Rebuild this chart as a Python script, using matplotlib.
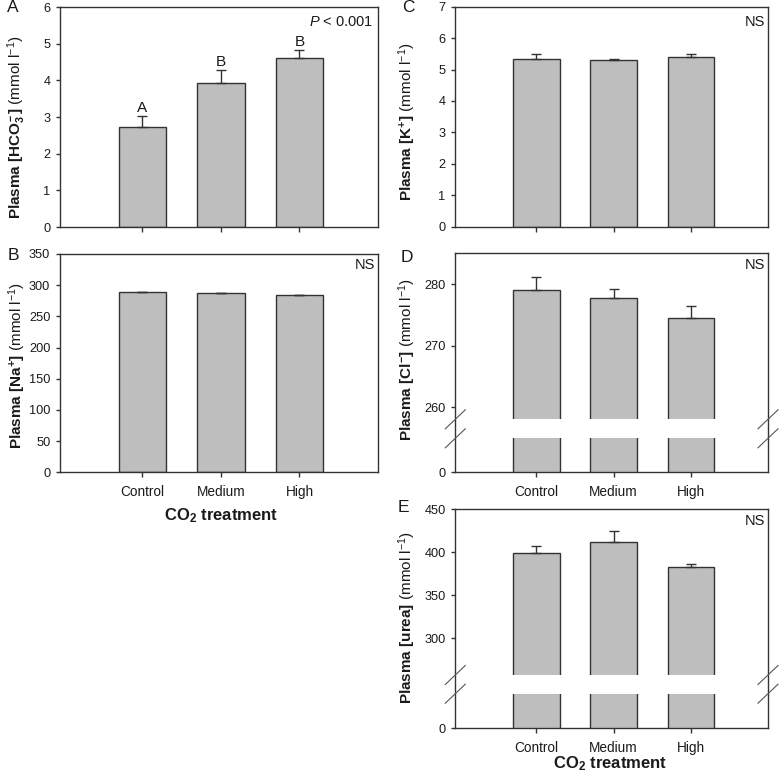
import numpy as np
import matplotlib
matplotlib.use('Agg')
import matplotlib.pyplot as plt
from matplotlib.lines import Line2D

plt.rcParams['font.family'] = ['Liberation Sans', 'DejaVu Sans']
plt.rcParams['mathtext.fontset'] = 'custom'
plt.rcParams['mathtext.rm'] = 'Liberation Sans'
plt.rcParams['mathtext.it'] = 'Liberation Sans:italic'
plt.rcParams['mathtext.bf'] = 'Liberation Sans:bold'

groups = ['Control', 'Medium', 'High']
letters = ['A', 'B', 'B']

hco3 = [2.74, 3.94, 4.62]
hco3_se = [0.29, 0.35, 0.22]
k = [5.35, 5.29, 5.39]
k_se = [0.16, 0.06, 0.09]
na = [288.6, 287.0, 283.8]
na_se = [1.1, 1.1, 1.1]
cl = [279.1, 277.7, 274.5]
cl_se = [2.0, 1.5, 1.9]
urea = [398.5, 411.5, 383.1]
urea_se = [8.0, 12.7, 3.1]

bar_col = '#bebebe'
edge = '#333333'
txt = '#1a1a1a'
x = np.arange(1, 4)

fig = plt.figure(figsize=(7.8, 7.78), dpi=100)


def frac(l, t, r, b):
    # pixel box (from top-left) -> figure fraction rect
    return [l / 780, 1 - b / 778, (r - l) / 780, (b - t) / 778]


def style(ax, ticks, frame=True, xlabels=False):
    ax.set_xlim(-0.05, 4.0)
    ax.set_facecolor('none')
    for s in ax.spines.values():
        s.set_visible(frame)
        s.set_color(edge)
        s.set_linewidth(1)
    ax.set_yticks(ticks)
    ax.tick_params(axis='both', direction='out', length=3, width=1, color=edge,
                   labelsize=9.2, labelcolor=txt, pad=4)
    ax.tick_params(axis='x', length=3.5, pad=6, labelsize=9.8)
    ax.set_xticks(x)
    if xlabels:
        ax.set_xticklabels(groups)
    else:
        ax.set_xticklabels([])


def bars(ax, vals, se):
    ax.bar(x, vals, width=0.6, color=bar_col, edgecolor=edge, linewidth=1, zorder=2)
    ax.errorbar(x, vals, yerr=[np.zeros(3), se], fmt='none', ecolor=edge,
                elinewidth=1, capsize=3.3, capthick=1, zorder=3)


def broken(top, gap_t, gap_b, bottom, vals, se, up_lim, up_ticks, xlabels):
    frame = fig.add_axes(frac(455.3, top, 768, bottom))
    frame.set_xticks([])
    frame.set_yticks([])
    frame.set_facecolor('none')
    for s in frame.spines.values():
        s.set_color(edge)
        s.set_linewidth(1)
    up = fig.add_axes(frac(455.3, top, 768, gap_t))
    lo = fig.add_axes(frac(455.3, gap_b, 768, bottom))
    bars(up, vals, se)
    bars(lo, vals, se)
    up.set_ylim(*up_lim)
    lo.set_ylim(0, 100)
    style(up, up_ticks, frame=False)
    up.tick_params(axis='x', bottom=False)
    style(lo, [0], frame=False, xlabels=xlabels)
    # break marks
    for px in (455.3, 768):
        for py in (gap_t, gap_b):
            fig.add_artist(Line2D([(px - 10) / 780, (px + 10) / 780],
                                  [1 - (py + 9.5) / 778, 1 - (py - 9.5) / 778],
                                  color='#555555', lw=0.8, transform=fig.transFigure))
    return frame


# A: HCO3-
axA = fig.add_axes(frac(60, 7, 378, 227))
bars(axA, hco3, hco3_se)
axA.set_ylim(0, 6)
style(axA, range(0, 7))
for xi, v, s, l in zip(x, hco3, hco3_se, letters):
    axA.annotate(l, (xi, v + s), xytext=(0, 0.5), textcoords='offset points',
                 ha='center', va='bottom', fontsize=11, color=txt)
axA.text(0.985, 0.932, r'$P$ < 0.001', transform=axA.transAxes, ha='right',
         va='center', fontsize=10.5, color=txt)

# B: Na+
axB = fig.add_axes(frac(60, 254, 378, 472.3))
bars(axB, na, na_se)
axB.set_ylim(0, 350)
style(axB, range(0, 351, 50), xlabels=True)
axB.text(0.99, 0.95, 'NS', transform=axB.transAxes, ha='right', va='center',
         fontsize=10.5, color=txt)

# C: K+
axC = fig.add_axes(frac(455.3, 6.7, 768, 226.7))
bars(axC, k, k_se)
axC.set_ylim(0, 7)
style(axC, range(0, 8))
axC.text(0.99, 0.932, 'NS', transform=axC.transAxes, ha='right', va='center',
         fontsize=10.5, color=txt)

# D: Cl- (broken axis)
frD = broken(253.3, 419.3, 438.3, 472.3, cl, cl_se, (258, 285), [260, 270, 280], True)
frD.text(0.99, 0.947, 'NS', transform=frD.transAxes, ha='right', va='center',
         fontsize=10.5, color=txt)

# E: urea (broken axis)
frE = broken(509, 675, 693.7, 728.3, urea, urea_se, (257, 450), [300, 350, 400, 450], True)
frE.text(0.99, 0.947, 'NS', transform=frE.transAxes, ha='right', va='center',
         fontsize=10.5, color=txt)

# y labels
ylab = [
    (17, 127, r'$\mathbf{Plasma\ [HCO_3^{\!-}]}$ (mmol l$^{-1}$)'),
    (17, 365, r'$\mathbf{Plasma\ [Na^{+}]}$ (mmol l$^{-1}$)'),
    (406.7, 122, r'$\mathbf{Plasma\ [K^{+}]}$ (mmol l$^{-1}$)'),
    (406.7, 360, r'$\mathbf{Plasma\ [Cl^{-}]}$ (mmol l$^{-1}$)'),
    (406.7, 617, r'$\mathbf{Plasma\ [urea]}$ (mmol l$^{-1}$)'),
]
for px, py, s in ylab:
    fig.text(px / 780, 1 - py / 778, s, rotation=90, ha='center', va='center',
             fontsize=11, color=txt)

# x labels
fig.text(221 / 780, 1 - 516 / 778, r'$\mathbf{CO_2\ treatment}$', ha='center',
         va='center', fontsize=12, color=txt)
fig.text(610 / 780, 1 - 764 / 778, r'$\mathbf{CO_2\ treatment}$', ha='center',
         va='center', fontsize=12, color=txt)

# panel letters
for px, py, s in [(13, 8, 'A'), (13, 255, 'B'), (408, 7, 'C'), (407, 257, 'D'), (403, 507, 'E')]:
    fig.text(px / 780, 1 - py / 778, s, ha='center', va='center', fontsize=12.5, color=txt)

plt.savefig('out.png', dpi=100)
